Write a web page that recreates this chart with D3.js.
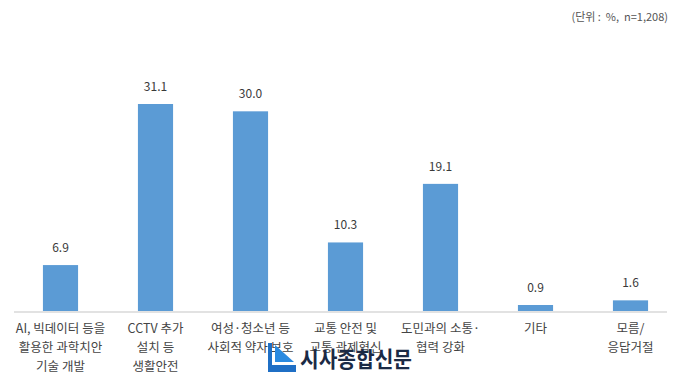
<!DOCTYPE html>
<html>
<head>
<meta charset="utf-8">
<script src="https://cdn.jsdelivr.net/npm/d3@7"></script>
<style>
  body { margin: 0; background: #fff; }
  text { font-family: "Noto Sans CJK KR", "Noto Sans", sans-serif; }
</style>
</head>
<body>
<svg id="chart" width="680" height="384"></svg>
<script>
// data
const categories = ["AI, 빅데이터 등을|활용한 과학치안|기술 개발", "CCTV 추가|설치 등|생활안전",
  "여성·청소년 등|사회적 약자 보호", "교통 안전 및|교통 관제혁신", "도민과의 소통·|협력 강화",
  "기타", "모름/|응답거절"];
const values = [6.9, 31.1, 30.0, 10.3, 19.1, 0.9, 1.6];
const unitLabel = "(단위 :  %,  n=1,208)";

const svg = d3.select("#chart");
const baseY = 311;

const x = d3.scaleBand()
  .domain(categories)
  .range([13, 678])
  .paddingInner(0.63)
  .paddingOuter(0.315);

const y = d3.scaleLinear()
  .domain([0, 31.1])
  .range([baseY, 104]);

// baseline
svg.append("line")
  .attr("x1", 14).attr("x2", 667)
  .attr("y1", baseY + 1).attr("y2", baseY + 1)
  .attr("stroke", "#d9d9d9").attr("stroke-width", 1.5);

// bars
svg.selectAll("rect.bar")
  .data(values)
  .enter().append("rect")
    .attr("class", "bar")
    .attr("x", (d, i) => x(categories[i]))
    .attr("width", x.bandwidth())
    .attr("y", d => y(d))
    .attr("height", d => baseY - y(d))
    .attr("fill", "#5b9bd5");

// value labels
svg.selectAll("text.val")
  .data(values)
  .enter().append("text")
    .attr("class", "val")
    .attr("x", (d, i) => x(categories[i]) + x.bandwidth() / 2)
    .attr("y", d => y(d) - 13)
    .attr("text-anchor", "middle")
    .attr("font-size", 12)
    .attr("fill", "#3a3a3a")
    .text(d => d.toFixed(1));

// category labels
const cat = svg.selectAll("text.cat")
  .data(categories)
  .enter().append("text")
    .attr("class", "cat")
    .attr("text-anchor", "middle")
    .attr("font-size", 12.5)
    .attr("fill", "#444");
cat.each(function(d) {
  const cx = x(d) + x.bandwidth() / 2;
  d.split("|").forEach((line, j) => {
    d3.select(this).append("tspan")
      .attr("x", cx)
      .attr("y", 333 + j * 19)
      .text(line);
  });
});

// unit
svg.append("text")
  .attr("x", 668).attr("y", 21)
  .attr("text-anchor", "end")
  .attr("font-size", 11)
  .attr("fill", "#555")
  .style("white-space", "pre")
  .text(unitLabel);

// watermark
const wm = svg.append("g").attr("transform", "translate(268,343)");
wm.append("path")
  .attr("d", "M0,0 L4,0 L4,22 L28,22 L28,29 L0,29 Z")
  .attr("fill", "#1f6fc5");
wm.append("path")
  .attr("d", "M7,2 L26,19 L7,19 Z")
  .attr("fill", "#2a8ae0");
wm.append("text")
  .attr("x", 32).attr("y", 24)
  .attr("font-size", 22)
  .attr("font-weight", "bold")
  .attr("textLength", 112)
  .attr("lengthAdjust", "spacingAndGlyphs")
  .attr("fill", "#1b2a45")
  .text("시사종합신문");
</script>
</body>
</html>
